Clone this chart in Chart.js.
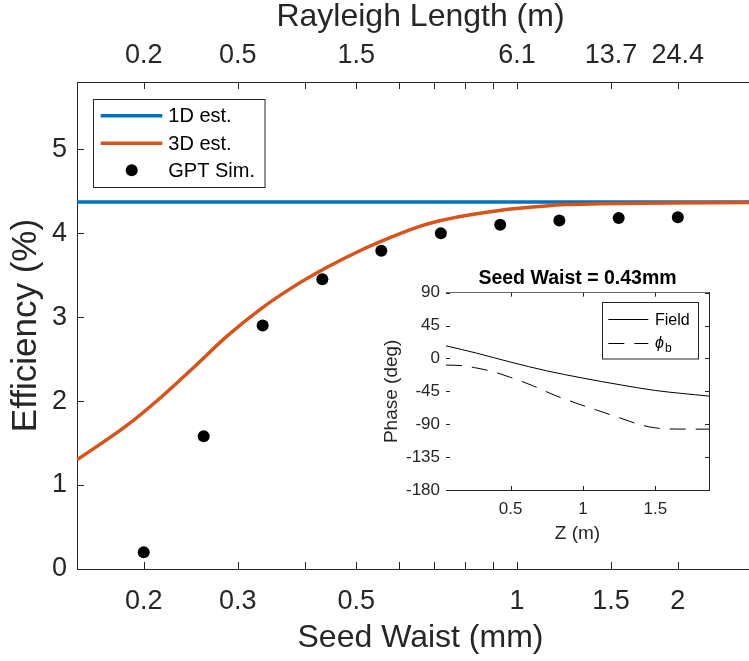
<!DOCTYPE html>
<html><head><meta charset="utf-8">
<script src="https://cdn.jsdelivr.net/npm/chart.js@4.4.1/dist/chart.umd.min.js"></script>
<style>
html,body{margin:0;padding:0;background:#fff;overflow:hidden;width:749px;height:661px;}
#wrap{position:relative;width:749px;height:661px;overflow:hidden;background:#fff;}
#main{position:absolute;left:0;top:0;}
#inset{position:absolute;left:360px;top:258px;}
</style></head><body>
<div id="wrap">
<canvas id="main" width="770" height="661"></canvas>
<canvas id="inset" width="380" height="300"></canvas>
</div>
<script>
// ---------- main chart data ----------
const waistTicks = [0.2, 0.3, 0.4, 0.5, 0.6, 0.7, 0.8, 0.9, 1, 1.5, 2];
const waistLabels = ['0.2', '0.3', '', '0.5', '', '', '', '', '1', '1.5', '2'];
const rayleighLabels = ['0.2', '0.5', '', '1.5', '', '', '', '', '6.1', '13.7', '24.4'];
const effTicks = [0, 1, 2, 3, 4, 5];

const oneDWaist = [0.15, 2.9];
const oneDEff = [4.37, 4.37];

const threeDWaist = [0.150, 0.186, 0.215, 0.248, 0.286, 0.330, 0.381, 0.440, 0.508, 0.586, 0.657, 0.720, 0.803, 0.927, 1.069, 1.234, 1.424, 1.897, 2.70, 2.9];
const threeDEff   = [1.30, 1.71, 2.04, 2.40, 2.77, 3.09, 3.36, 3.59, 3.79, 3.96, 4.08, 4.15, 4.21, 4.27, 4.31, 4.34, 4.35, 4.36, 4.365, 4.365];

const gptWaist = [0.2, 0.259, 0.334, 0.432, 0.557, 0.72, 0.93, 1.2, 1.55, 2.0];
const gptEff   = [0.20, 1.58, 2.90, 3.45, 3.79, 4.00, 4.10, 4.15, 4.18, 4.19];

// ---------- inset data ----------
const zTicks = [0.5, 1, 1.5];
const phaseTicks = [-180, -135, -90, -45, 0, 45, 90];
const fieldZ     = [0.053, 0.265, 0.5, 0.749, 1.0, 1.256, 1.5, 1.871];
const fieldPhase = [17.3, 7.3, -5.0, -16.9, -26.9, -36.0, -43.8, -51.5];
const phibZ      = [0.053, 0.15, 0.25, 0.38, 0.5, 0.65, 0.8, 0.95, 1.1, 1.25, 1.4, 1.5, 1.6, 1.75, 1.871];
const phibPhase  = [-9.1, -9.6, -12.5, -18.2, -26, -37, -50, -61, -71, -81, -91, -95, -96.5, -96.7, -96.7];

const F = '"Liberation Sans", Arial, Helvetica, sans-serif';
const INK = '#262626';

function pts(xs, ys) { return xs.map((x, i) => ({x: x, y: ys[i]})); }

// inward ticks for main chart
const mainTicks = {
  id: 'mainTicks',
  afterDraw(chart) {
    const ctx = chart.ctx, a = chart.chartArea, L = 7;
    ctx.save();
    ctx.strokeStyle = INK; ctx.lineWidth = 1;
    ctx.beginPath();
    waistTicks.forEach(v => {
      const px = Math.round(chart.scales.x.getPixelForValue(v)) + 0.5;
      ctx.moveTo(px, a.bottom); ctx.lineTo(px, a.bottom - L);
      ctx.moveTo(px, a.top); ctx.lineTo(px, a.top + L);
    });
    effTicks.forEach(v => {
      const py = Math.round(chart.scales.y.getPixelForValue(v)) + 0.5;
      ctx.moveTo(a.left, py); ctx.lineTo(a.left + L, py);
    });
    ctx.stroke();
    ctx.restore();
  }
};

const mainLegend = {
  id: 'mainLegend',
  afterDraw(chart) {
    const ctx = chart.ctx;
    ctx.save();
    const bx = 93.5, by = 99.5, bw = 171.5, bh = 88;
    ctx.fillStyle = '#fff'; ctx.fillRect(bx, by, bw, bh);
    ctx.strokeStyle = INK; ctx.lineWidth = 1; ctx.strokeRect(bx, by, bw, bh);
    const rows = [115.7, 143.3, 170.3];
    chart.data.datasets.forEach((d, i) => {
      const y = rows[i];
      if (d.showLine === false) {
        ctx.fillStyle = d.pointBackgroundColor;
        ctx.beginPath(); ctx.arc(131.7, y, 6, 0, Math.PI * 2); ctx.fill();
      } else {
        ctx.strokeStyle = d.borderColor; ctx.lineWidth = d.borderWidth;
        ctx.beginPath(); ctx.moveTo(100.7, y); ctx.lineTo(162.3, y); ctx.stroke();
      }
      ctx.fillStyle = '#000';
      ctx.font = '20px ' + F;
      ctx.textBaseline = 'middle'; ctx.textAlign = 'left';
      ctx.fillText(d.label, 168.3, y + 1);
    });
    ctx.restore();
  }
};

new Chart(document.getElementById('main'), {
  type: 'line',
  data: {
    datasets: [
      {label: '1D est.', data: pts(oneDWaist, oneDEff), borderColor: '#0072BD', borderWidth: 3.5, pointRadius: 0, fill: false, order: 3},
      {label: '3D est.', data: pts(threeDWaist, threeDEff), borderColor: '#D95319', borderWidth: 3.5, pointRadius: 0, fill: false, cubicInterpolationMode: 'monotone', order: 2},
      {label: 'GPT Sim.', data: pts(gptWaist, gptEff), showLine: false, pointRadius: 6, pointBackgroundColor: '#000', pointBorderColor: '#000', pointBorderWidth: 0, borderColor: '#000', order: 1}
    ]
  },
  options: {
    responsive: false, animation: false, devicePixelRatio: 1,
    layout: {padding: {left: 0, right: 4.5, top: 0, bottom: 0}},
    plugins: {legend: {display: false}, tooltip: {enabled: false}},
    scales: {
      x: {
        type: 'logarithmic', position: 'bottom', min: 0.15, max: 2.9,
        afterBuildTicks: s => { s.ticks = waistTicks.map(v => ({value: v})); },
        afterFit: s => { s.height = 92; },
        ticks: {callback: (v, i) => waistLabels[i], font: {size: 27, family: F}, color: INK, padding: 16, maxRotation: 0, autoSkip: false},
        grid: {display: false, drawTicks: false},
        border: {display: true, color: INK, width: 1},
        title: {display: true, text: 'Seed Waist (mm)', font: {size: 32, family: F}, color: INK, padding: {top: 0, bottom: 4}}
      },
      x2: {
        type: 'logarithmic', position: 'top', min: 0.15, max: 2.9,
        afterBuildTicks: s => { s.ticks = waistTicks.map(v => ({value: v})); },
        afterFit: s => { s.height = 82; },
        ticks: {callback: (v, i) => rayleighLabels[i], font: {size: 27, family: F}, color: INK, padding: 10, maxRotation: 0, autoSkip: false},
        grid: {display: false, drawTicks: false},
        border: {display: true, color: INK, width: 1},
        title: {display: true, text: 'Rayleigh Length (m)', font: {size: 32, family: F}, color: INK, padding: {top: -2, bottom: 0}}
      },
      y: {
        type: 'linear', position: 'left', min: 0, max: 5.8,
        afterBuildTicks: s => { s.ticks = effTicks.map(v => ({value: v})); },
        afterFit: s => { s.width = 77; },
        ticks: {callback: v => String(v), font: {size: 27, family: F}, color: INK, padding: 10},
        grid: {display: false, drawTicks: false},
        border: {display: true, color: INK, width: 1},
        title: {display: true, text: 'Efficiency (%)', font: {size: 35, family: F}, color: INK, padding: {top: 5, bottom: 0}}
      }
    }
  },
  plugins: [mainTicks, mainLegend]
});

// ---------- inset ----------
const insetDecor = {
  id: 'insetDecor',
  beforeDatasetsDraw(chart) {
    const ctx = chart.ctx, a = chart.chartArea;
    ctx.save(); ctx.fillStyle = '#fff';
    ctx.fillRect(a.left, a.top, a.right - a.left, a.bottom - a.top);
    ctx.restore();
  },
  afterDraw(chart) {
    const ctx = chart.ctx, a = chart.chartArea, L = 4;
    ctx.save();
    ctx.strokeStyle = INK; ctx.lineWidth = 1;
    ctx.beginPath();
    zTicks.forEach(v => {
      const px = Math.round(chart.scales.x.getPixelForValue(v)) + 0.5;
      ctx.moveTo(px, a.bottom); ctx.lineTo(px, a.bottom - L);
      ctx.moveTo(px, a.top); ctx.lineTo(px, a.top + L);
    });
    phaseTicks.forEach(v => {
      const py = Math.round(chart.scales.y.getPixelForValue(v)) + 0.5;
      ctx.moveTo(a.left, py); ctx.lineTo(a.left + L, py);
      ctx.moveTo(a.right, py); ctx.lineTo(a.right - L, py);
    });
    ctx.stroke();
    // legend
    const bx = 242.5, by = 44.5, bw = 96, bh = 56.5;
    ctx.fillStyle = '#fff'; ctx.fillRect(bx, by, bw, bh);
    ctx.strokeStyle = INK; ctx.strokeRect(bx, by, bw, bh);
    const ds = chart.data.datasets;
    const rows = [61.3, 85.3];
    ds.forEach((d, i) => {
      const y = Math.round(rows[i]) + 0.5;
      ctx.strokeStyle = d.borderColor; ctx.lineWidth = d.borderWidth;
      ctx.setLineDash(d.borderDash || []);
      ctx.beginPath(); ctx.moveTo(248.3, y); ctx.lineTo(288.3, y); ctx.stroke();
      ctx.setLineDash([]);
    });
    ctx.fillStyle = '#000'; ctx.textBaseline = 'middle'; ctx.textAlign = 'left';
    ctx.font = '16px ' + F;
    ctx.fillText(ds[0].label, 295, rows[0] + 1);
    ctx.font = 'italic 16px ' + F;
    ctx.fillText('\u03D5', 295, rows[1]);
    const w = ctx.measureText('\u03D5').width;
    ctx.font = '12px ' + F;
    ctx.fillText('b', 295 + w + 1, rows[1] + 5);
    ctx.restore();
  }
};

new Chart(document.getElementById('inset'), {
  type: 'line',
  data: {
    datasets: [
      {label: 'Field', data: pts(fieldZ, fieldPhase), borderColor: '#000', borderWidth: 1, pointRadius: 0, fill: false, cubicInterpolationMode: 'monotone'},
      {label: 'phi_b', data: pts(phibZ, phibPhase), borderColor: '#000', borderWidth: 1, borderDash: [16, 10], pointRadius: 0, fill: false, cubicInterpolationMode: 'monotone'}
    ]
  },
  options: {
    responsive: false, animation: false, devicePixelRatio: 1,
    layout: {padding: {left: 0, right: 0, top: 0, bottom: 0}},
    plugins: {legend: {display: false}, tooltip: {enabled: false}},
    scales: {
      x: {
        type: 'linear', position: 'bottom', min: 0.053, max: 1.871,
        afterBuildTicks: s => { s.ticks = zTicks.map(v => ({value: v})); },
        afterFit: s => { s.height = 68; },
        ticks: {callback: v => String(v), font: {size: 17, family: F}, color: INK, padding: 9, maxRotation: 0, autoSkip: false},
        grid: {display: false, drawTicks: false},
        border: {display: true, color: INK, width: 1},
        title: {display: true, text: 'Z (m)', font: {size: 19, family: F}, color: INK, padding: {top: 0, bottom: 13}}
      },
      x2: {
        type: 'linear', position: 'top', min: 0.053, max: 1.871,
        afterFit: s => { s.height = 34.7; },
        ticks: {display: false},
        grid: {display: false, drawTicks: false},
        border: {display: true, color: INK, width: 1},
        title: {display: true, text: 'Seed Waist = 0.43mm', font: {size: 19.5, family: F, weight: 'bold'}, color: '#000', padding: {top: 9, bottom: 0}}
      },
      y: {
        type: 'linear', position: 'left', min: -180, max: 90,
        afterBuildTicks: s => { s.ticks = phaseTicks.map(v => ({value: v})); },
        afterFit: s => { s.width = 86; },
        ticks: {callback: v => String(v), font: {size: 17, family: F}, color: INK, padding: 6},
        grid: {display: false, drawTicks: false},
        border: {display: true, color: INK, width: 1},
        title: {display: true, text: 'Phase (deg)', font: {size: 19, family: F}, color: INK, padding: {top: 20, bottom: 0}}
      },
      y2: {
        type: 'linear', position: 'right', min: -180, max: 90,
        afterFit: s => { s.width = 31; },
        ticks: {display: false},
        grid: {display: false, drawTicks: false},
        border: {display: true, color: INK, width: 1}
      }
    }
  },
  plugins: [insetDecor]
});
</script>
</body></html>
